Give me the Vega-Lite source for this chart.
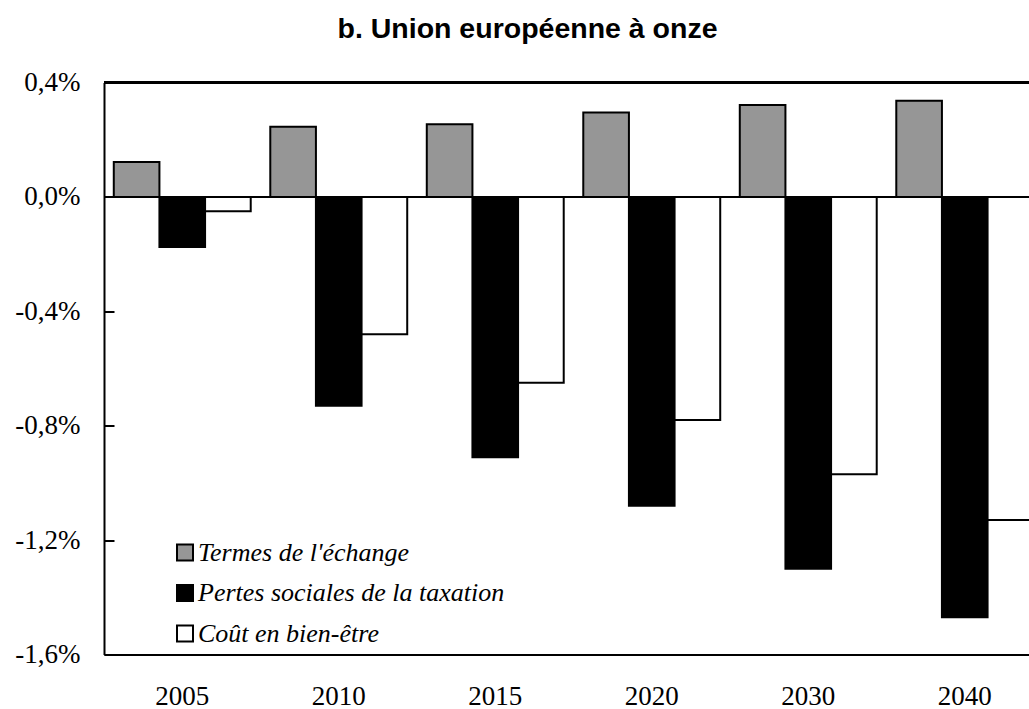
{
  "$schema": "https://vega.github.io/schema/vega-lite/v6.json",
  "autosize": {"type": "none"},
  "width": 925,
  "height": 572,
  "padding": {"left": 104, "top": 82.5, "right": 0, "bottom": 54.5},
  "background": "white",
  "config": {"view": {"stroke": null}},
  "title": {
    "text": "b. Union européenne à onze",
    "font": "Liberation Sans",
    "fontSize": 28.5,
    "fontWeight": "bold",
    "color": "black",
    "anchor": "middle",
    "offset": 25,
    "dx": -39
  },
  "data": {
    "values": [
      {"year": "2005", "series": "Termes de l'échange", "value": 0.122},
      {"year": "2005", "series": "Pertes sociales de la taxation", "value": -0.175},
      {"year": "2005", "series": "Coût en bien-être", "value": -0.05},
      {"year": "2010", "series": "Termes de l'échange", "value": 0.245},
      {"year": "2010", "series": "Pertes sociales de la taxation", "value": -0.73},
      {"year": "2010", "series": "Coût en bien-être", "value": -0.48},
      {"year": "2015", "series": "Termes de l'échange", "value": 0.254},
      {"year": "2015", "series": "Pertes sociales de la taxation", "value": -0.91},
      {"year": "2015", "series": "Coût en bien-être", "value": -0.65},
      {"year": "2020", "series": "Termes de l'échange", "value": 0.295},
      {"year": "2020", "series": "Pertes sociales de la taxation", "value": -1.08},
      {"year": "2020", "series": "Coût en bien-être", "value": -0.78},
      {"year": "2030", "series": "Termes de l'échange", "value": 0.321},
      {"year": "2030", "series": "Pertes sociales de la taxation", "value": -1.30},
      {"year": "2030", "series": "Coût en bien-être", "value": -0.97},
      {"year": "2040", "series": "Termes de l'échange", "value": 0.336},
      {"year": "2040", "series": "Pertes sociales de la taxation", "value": -1.47},
      {"year": "2040", "series": "Coût en bien-être", "value": -1.13}
    ]
  },
  "encoding": {
    "y": {
      "type": "quantitative",
      "scale": {"domain": [-1.6, 0.4], "nice": false, "zero": false},
      "axis": {
        "title": null,
        "values": [-1.6, -1.2, -0.8, -0.4, 0, 0.4],
        "grid": false,
        "domainColor": "black",
        "domainWidth": 2,
        "tickColor": "black",
        "tickWidth": 2,
        "tickSize": -10,
        "labelPadding": 34,
        "labelFont": "Liberation Serif",
        "labelFontSize": 27,
        "labelColor": "black",
        "labelExpr": "(datum.value < 0 ? '-' : '') + replace(format(abs(datum.value), '.1f'), '.', ',') + '%'"
      }
    }
  },
  "layer": [
    {
      "mark": {"type": "bar", "stroke": "black", "strokeWidth": 2},
      "encoding": {
        "x": {
          "field": "year",
          "type": "nominal",
          "sort": null,
          "scale": {"range": [0, 939], "paddingInner": 0.125, "paddingOuter": 0.0625},
          "axis": {
            "title": null,
            "labelAngle": 0,
            "ticks": false,
            "domainColor": "black",
            "domainWidth": 2,
            "labelPadding": 29,
            "labelFont": "Liberation Serif",
            "labelFontSize": 27,
            "labelColor": "black"
          }
        },
        "xOffset": {
          "field": "series",
          "type": "nominal",
          "sort": ["Termes de l'échange", "Pertes sociales de la taxation", "Coût en bien-être"],
          "scale": {"paddingInner": 0, "paddingOuter": 0}
        },
        "y": {"field": "value"},
        "fill": {
          "field": "series",
          "type": "nominal",
          "sort": ["Termes de l'échange", "Pertes sociales de la taxation", "Coût en bien-être"],
          "scale": {
            "domain": ["Termes de l'échange", "Pertes sociales de la taxation", "Coût en bien-être"],
            "range": ["#969696", "#000000", "#ffffff"]
          },
          "legend": {
            "title": null,
            "orient": "none",
            "legendX": 68,
            "legendY": 457,
            "direction": "vertical",
            "padding": 0,
            "symbolType": "square",
            "symbolSize": 256,
            "symbolStrokeColor": "black",
            "symbolStrokeWidth": 2,
            "symbolOpacity": 1,
            "labelFont": "Liberation Serif",
            "labelFontStyle": "italic",
            "labelFontSize": 26,
            "labelColor": "black",
            "labelOffset": 0,
            "rowPadding": 14.5,
            "labelLimit": 600
          }
        }
      }
    },
    {
      "mark": {"type": "rule", "color": "black", "strokeWidth": 2},
      "encoding": {"y": {"datum": 0}}
    },
    {
      "mark": {"type": "rule", "color": "black", "strokeWidth": 2},
      "encoding": {"y": {"datum": 0.4}}
    }
  ]
}
